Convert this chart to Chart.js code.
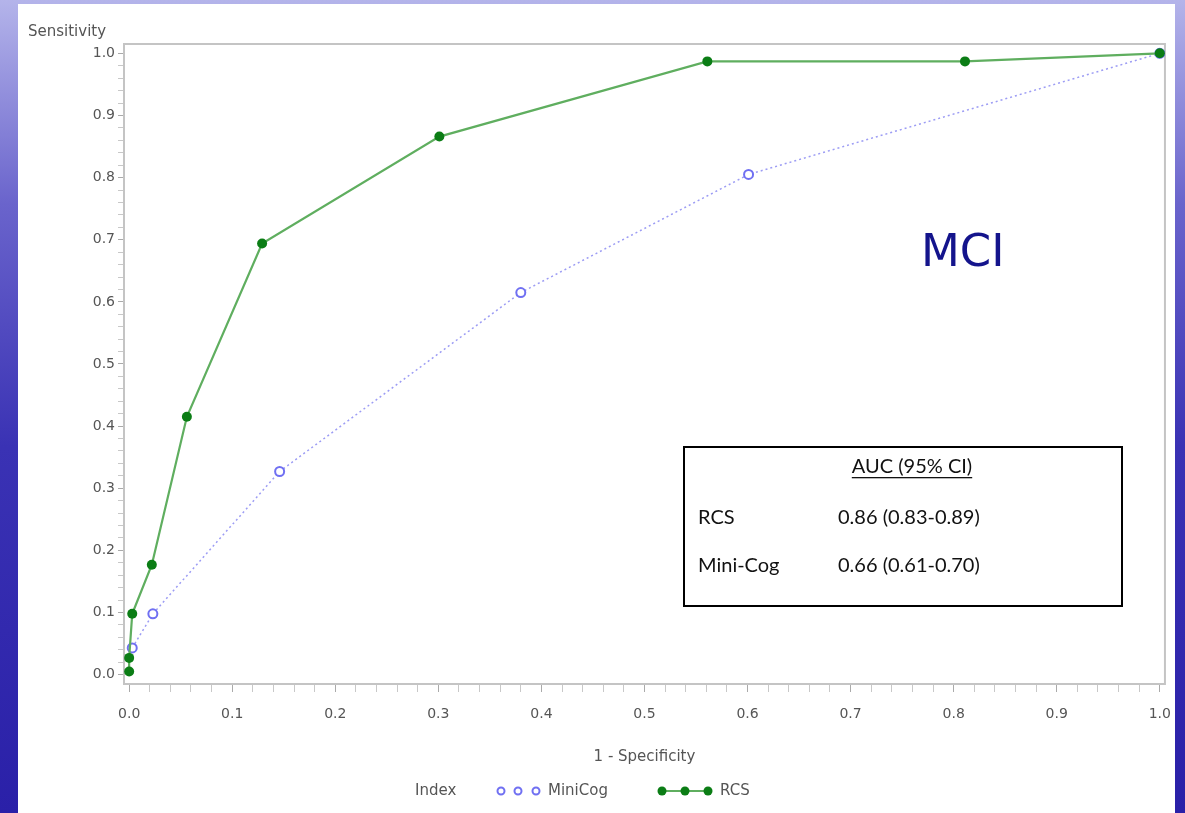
<!DOCTYPE html>
<html>
<head>
<meta charset="utf-8">
<script src="https://cdn.jsdelivr.net/npm/chart.js@4.4.0/dist/chart.umd.min.js"></script>
<style>
  html, body { margin: 0; padding: 0; }
  body {
    width: 1185px; height: 813px; overflow: hidden; position: relative;
    background: linear-gradient(to bottom, #b4b4ea 0%, #6a64cc 25%, #3a32b4 55%, #2a20a8 100%);
  }
  #panel { position: absolute; left: 18px; top: 4px; width: 1157px; height: 809px; background: #fff; }
  #wrap { position: absolute; left: 0; top: 0; width: 1185px; height: 813px; }
</style>
</head>
<body>
<div id="panel"></div>
<div id="wrap"><canvas id="roc" width="1185" height="813"></canvas></div>
<script>
// data
var rcsX = [0, 0, 0.003, 0.022, 0.056, 0.129, 0.301, 0.561, 0.811, 1.0]
var rcsY = [0.005, 0.027, 0.098, 0.177, 0.415, 0.694, 0.866, 0.987, 0.987, 1.0]
var miniX = [0.003, 0.023, 0.146, 0.380, 0.601, 1.0]
var miniY = [0.043, 0.098, 0.327, 0.615, 0.805, 1.0]
var aucRows = [['RCS', '0.86 (0.83-0.89)'], ['Mini-Cog', '0.66 (0.61-0.70)']]

var tickColor = '#555'
var frameColor = '#c4c4c4'
var blue = '#7070f2'
var green = '#0b7d15'
var sans = 'DejaVu Sans'

function points(xs, ys) {
    return xs.map(function (x, i) { return { x: x, y: ys[i] } })
}
function isMajor(v) {
    return Math.abs(v * 10 - Math.round(v * 10)) < 1e-6
}

// frame, titles, AUC box and legend
var extras = {
    id: 'extras',
    beforeDatasetsDraw: function (chart) {
        var ctx = chart.ctx, a = chart.chartArea
        ctx.save()
        ctx.strokeStyle = frameColor
        ctx.lineWidth = 2
        ctx.strokeRect(a.left, a.top, a.right - a.left, a.bottom - a.top)
        ctx.restore()
    },
    afterDraw: function (chart) {
        var ctx = chart.ctx
        ctx.save()
        ctx.fillStyle = tickColor
        ctx.font = '15px "' + sans + '"'
        ctx.textBaseline = 'middle'
        ctx.textAlign = 'left'
        ctx.fillText('Sensitivity', 28, 32)

        // MCI label
        ctx.fillStyle = '#14148c'
        ctx.font = '45px "DejaVu Sans"'
        ctx.fillText('MCI', 921, 254)

        // AUC box
        ctx.strokeStyle = '#000'
        ctx.lineWidth = 2
        ctx.strokeRect(684, 447, 438, 159)
        ctx.fillStyle = '#111'
        ctx.font = '20px Lato'
        ctx.textAlign = 'center'
        ctx.fillText('AUC (95% CI)', 912, 467)
        var w = ctx.measureText('AUC (95% CI)').width
        ctx.fillRect(912 - w / 2, 477, w, 1.3)
        ctx.textAlign = 'left'
        aucRows.forEach(function (r, i) {
            ctx.fillText(r[0], 698, 518 + i * 48)
            ctx.fillText(r[1], 838, 518 + i * 48)
        })

        // legend
        var ds = chart.data.datasets
        var y = 791
        ctx.font = '15px "' + sans + '"'
        ctx.fillStyle = tickColor
        ctx.fillText('Index', 415, y)
        ;[501, 518, 536].forEach(function (x) {
            ctx.beginPath()
            ctx.arc(x, y, 3.5, 0, Math.PI * 2)
            ctx.strokeStyle = ds[0].pointBorderColor
            ctx.lineWidth = 2
            ctx.stroke()
        })
        ctx.fillText(ds[0].label, 548, y)
        ctx.beginPath()
        ctx.moveTo(662, y); ctx.lineTo(708, y)
        ctx.strokeStyle = ds[1].borderColor
        ctx.lineWidth = 2
        ctx.stroke()
        ;[662, 685, 708].forEach(function (x) {
            ctx.beginPath()
            ctx.arc(x, y, 4.5, 0, Math.PI * 2)
            ctx.fillStyle = ds[1].pointBackgroundColor
            ctx.fill()
        })
        ctx.fillStyle = tickColor
        ctx.fillText(ds[1].label, 720, y)
        ctx.restore()
    }
}

new Chart(document.getElementById('roc').getContext('2d'), {
    type: 'scatter',
    data: {
        datasets: [
            {
                label: 'MiniCog',
                data: points(miniX, miniY),
                showLine: true,
                borderColor: '#9c9cf4',
                borderWidth: 1.5,
                borderDash: [2, 3],
                pointStyle: 'circle',
                pointRadius: 4.5,
                pointBorderWidth: 2,
                pointBorderColor: blue,
                pointBackgroundColor: '#fff',
                order: 2
            },
            {
                label: 'RCS',
                data: points(rcsX, rcsY),
                showLine: true,
                borderColor: '#5fae5f',
                borderWidth: 2.2,
                pointRadius: 5,
                pointBorderWidth: 0,
                pointBackgroundColor: green,
                pointBorderColor: green,
                order: 1
            }
        ]
    },
    options: {
        responsive: false,
        animation: false,
        devicePixelRatio: 1,
        layout: { padding: { left: 0, right: 16, top: 44, bottom: 47 } },
        plugins: { legend: { display: false }, tooltip: { enabled: false } },
        scales: {
            x: {
                type: 'linear',
                min: -0.005, max: 1.005,
                afterFit: function (s) { s.height = 82 },
                border: { display: false },
                grid: {
                    drawOnChartArea: false,
                    tickLength: 8,
                    tickColor: function (c) { return isMajor(c.tick.value) ? '#aaa' : '#c8c8c8' },
                    tickWidth: 1
                },
                ticks: {
                    stepSize: 0.02,
                    includeBounds: false,
                    autoSkip: false,
                    maxRotation: 0,
                    padding: 14,
                    color: tickColor,
                    font: { family: sans, size: 14 },
                    callback: function (v) { return isMajor(v) ? v.toFixed(1) : '' }
                },
                title: {
                    display: true,
                    text: '1 - Specificity',
                    color: tickColor,
                    font: { family: sans, size: 15 },
                    padding: { top: 4, bottom: 0 }
                }
            },
            y: {
                type: 'linear',
                min: -0.015, max: 1.015,
                afterFit: function (s) { s.width = 124 },
                border: { display: false },
                grid: {
                    drawOnChartArea: false,
                    tickLength: 6,
                    tickColor: function (c) { return isMajor(c.tick.value) ? '#aaa' : '#c8c8c8' },
                    tickWidth: 1
                },
                ticks: {
                    stepSize: 0.02,
                    includeBounds: false,
                    autoSkip: false,
                    padding: 3,
                    color: tickColor,
                    font: { family: sans, size: 14 },
                    callback: function (v) { return isMajor(v) ? v.toFixed(1) : '' }
                }
            }
        }
    },
    plugins: [extras]
})
</script>
</body>
</html>
